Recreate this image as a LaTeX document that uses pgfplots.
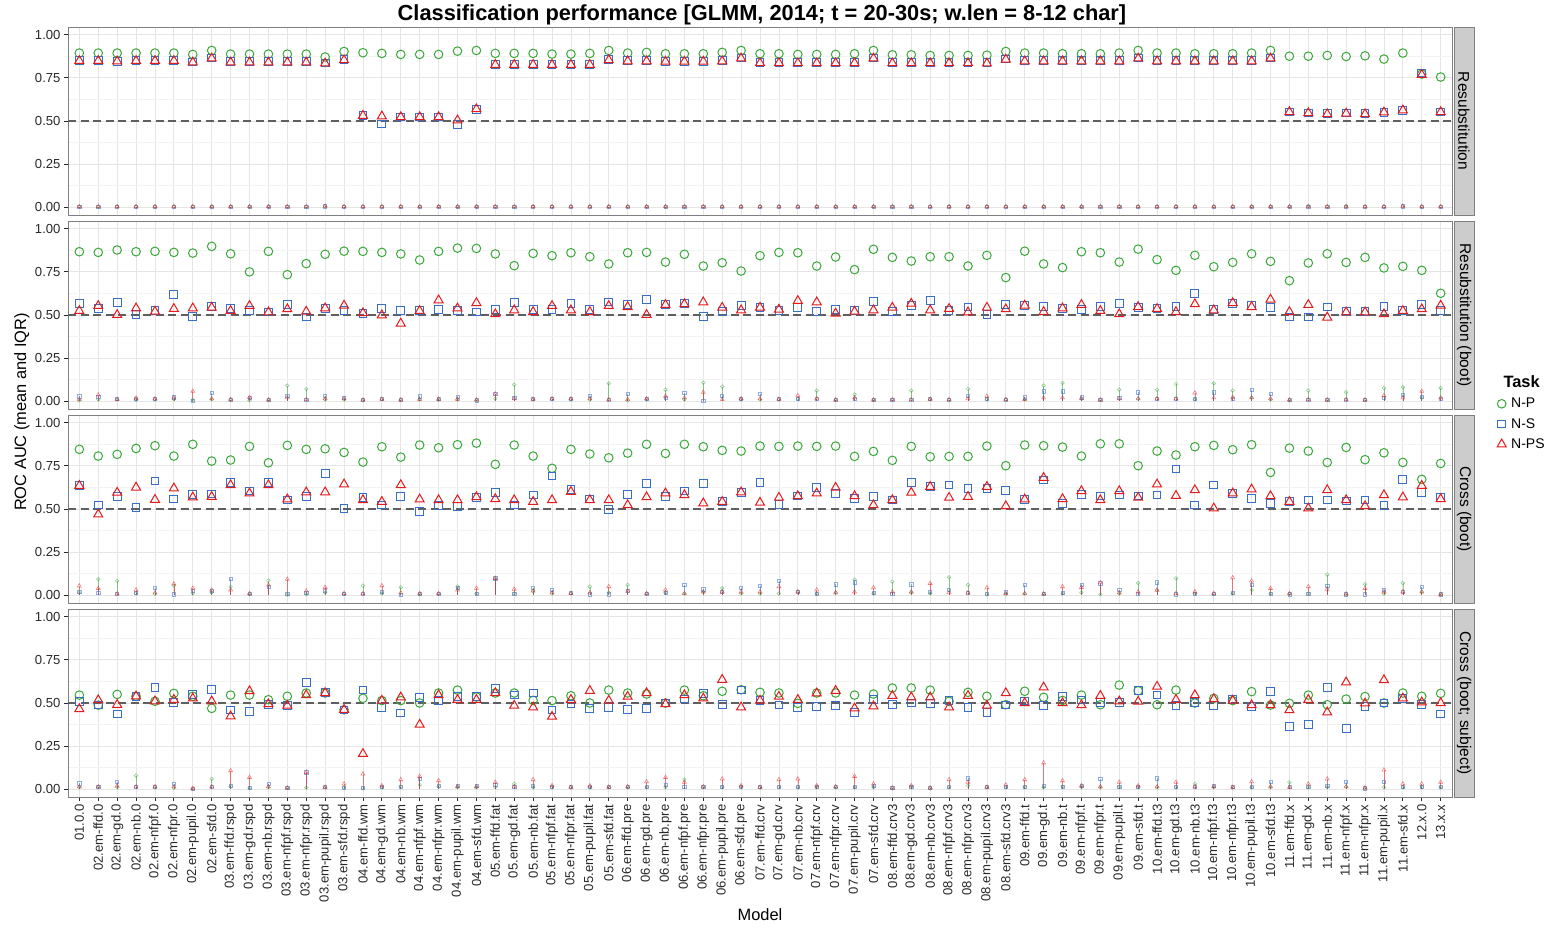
\documentclass[border=0pt]{standalone}
\usepackage{fontspec}
\setmainfont{Liberation Sans}
\usepackage{pgfplots}
\usepackage{pgfplotstable}
\pgfplotsset{compat=1.18}

\definecolor{npg}{RGB}{56,168,56}
\definecolor{nsb}{RGB}{55,110,200}
\definecolor{npsr}{RGB}{228,26,28}
\definecolor{gridmaj}{RGB}{229,229,229}
\definecolor{gridmin}{RGB}{243,243,243}
\definecolor{bordercol}{RGB}{127,127,127}
\definecolor{stripfill}{RGB}{204,204,204}
\definecolor{dashcol}{RGB}{95,95,95}
\definecolor{tickcol}{RGB}{40,40,40}

\newcommand{\ticksize}{\fontsize{13.1}{14}\selectfont}
\newcommand{\stripsize}{\fontsize{15.5}{17}\selectfont}
\newcommand{\legsize}{\fontsize{14}{16}\selectfont}

% x np ns nps snp sns snps
\pgfplotstableread{
x np ns nps snp sns snps
0 0.894 0.849 0.849 0.004 0.004 0.004
1 0.894 0.849 0.849 0.004 0.004 0.004
2 0.894 0.846 0.846 0.004 0.004 0.004
3 0.894 0.849 0.849 0.004 0.004 0.004
4 0.894 0.849 0.849 0.004 0.004 0.004
5 0.894 0.849 0.849 0.004 0.004 0.004
6 0.886 0.842 0.840 0.004 0.004 0.004
7 0.909 0.865 0.863 0.004 0.004 0.004
8 0.888 0.843 0.840 0.004 0.004 0.004
9 0.888 0.843 0.840 0.004 0.004 0.004
10 0.888 0.843 0.840 0.004 0.004 0.004
11 0.888 0.843 0.840 0.004 0.004 0.004
12 0.888 0.843 0.840 0.004 0.004 0.004
13 0.871 0.836 0.834 0.006 0.006 0.006
14 0.903 0.855 0.853 0.004 0.004 0.004
15 0.896 0.531 0.531 0.004 0.004 0.004
16 0.892 0.483 0.527 0.004 0.004 0.004
17 0.886 0.523 0.523 0.004 0.004 0.004
18 0.886 0.523 0.523 0.004 0.004 0.004
19 0.886 0.523 0.523 0.004 0.004 0.004
20 0.905 0.479 0.504 0.004 0.004 0.004
21 0.909 0.569 0.569 0.004 0.004 0.004
22 0.892 0.828 0.826 0.004 0.004 0.004
23 0.892 0.828 0.826 0.004 0.004 0.004
24 0.892 0.828 0.826 0.004 0.004 0.004
25 0.888 0.828 0.826 0.004 0.004 0.004
26 0.888 0.828 0.826 0.004 0.004 0.004
27 0.892 0.828 0.826 0.004 0.004 0.004
28 0.909 0.855 0.853 0.004 0.004 0.004
29 0.894 0.849 0.847 0.004 0.004 0.004
30 0.898 0.849 0.847 0.004 0.004 0.004
31 0.890 0.847 0.845 0.004 0.004 0.004
32 0.890 0.847 0.845 0.004 0.004 0.004
33 0.890 0.847 0.845 0.004 0.004 0.004
34 0.898 0.849 0.847 0.004 0.004 0.004
35 0.909 0.865 0.863 0.004 0.004 0.004
36 0.890 0.838 0.836 0.004 0.004 0.004
37 0.890 0.838 0.836 0.004 0.004 0.004
38 0.886 0.838 0.836 0.004 0.004 0.004
39 0.886 0.838 0.836 0.004 0.004 0.004
40 0.886 0.838 0.836 0.004 0.004 0.004
41 0.890 0.838 0.836 0.004 0.004 0.004
42 0.909 0.865 0.863 0.004 0.004 0.004
43 0.884 0.838 0.836 0.004 0.004 0.004
44 0.884 0.838 0.836 0.004 0.004 0.004
45 0.880 0.838 0.836 0.004 0.004 0.004
46 0.880 0.838 0.836 0.004 0.004 0.004
47 0.880 0.838 0.836 0.004 0.004 0.004
48 0.882 0.840 0.834 0.004 0.004 0.004
49 0.903 0.859 0.857 0.004 0.004 0.004
50 0.894 0.849 0.847 0.004 0.004 0.004
51 0.894 0.849 0.847 0.004 0.004 0.004
52 0.890 0.849 0.847 0.004 0.004 0.004
53 0.890 0.849 0.847 0.004 0.004 0.004
54 0.890 0.849 0.847 0.004 0.004 0.004
55 0.894 0.849 0.847 0.004 0.004 0.004
56 0.909 0.865 0.863 0.004 0.004 0.004
57 0.894 0.849 0.847 0.004 0.004 0.004
58 0.894 0.849 0.847 0.004 0.004 0.004
59 0.890 0.849 0.847 0.004 0.004 0.004
60 0.890 0.849 0.847 0.004 0.004 0.004
61 0.890 0.849 0.847 0.004 0.004 0.004
62 0.894 0.849 0.847 0.004 0.004 0.004
63 0.909 0.865 0.863 0.004 0.004 0.004
64 0.876 0.552 0.552 0.004 0.004 0.004
65 0.876 0.546 0.546 0.007 0.004 0.004
66 0.880 0.542 0.540 0.004 0.004 0.004
67 0.874 0.546 0.544 0.007 0.004 0.004
68 0.878 0.542 0.540 0.004 0.004 0.004
69 0.859 0.550 0.550 0.004 0.004 0.004
70 0.894 0.562 0.562 0.006 0.006 0.006
71 0.772 0.778 0.768 0.004 0.004 0.004
72 0.755 0.552 0.552 0.004 0.004 0.004
}\pone

\pgfplotstableread{
x np ns nps snp sns snps
0 0.867 0.568 0.524 0.005 0.029 0.012
1 0.863 0.539 0.553 0.010 0.025 0.037
2 0.877 0.574 0.501 0.010 0.015 0.010
3 0.867 0.505 0.539 0.008 0.015 0.018
4 0.869 0.524 0.520 0.010 0.015 0.015
5 0.863 0.617 0.536 0.012 0.023 0.020
6 0.859 0.491 0.539 0.008 0.004 0.058
7 0.898 0.549 0.543 0.012 0.048 0.015
8 0.855 0.539 0.524 0.010 0.010 0.010
9 0.750 0.524 0.553 0.005 0.018 0.022
10 0.869 0.518 0.516 0.008 0.008 0.008
11 0.734 0.559 0.534 0.091 0.033 0.020
12 0.798 0.489 0.520 0.071 0.010 0.010
13 0.852 0.539 0.539 0.010 0.033 0.015
14 0.870 0.524 0.555 0.010 0.020 0.015
15 0.869 0.509 0.511 0.005 0.008 0.008
16 0.863 0.539 0.499 0.012 0.015 0.012
17 0.854 0.526 0.451 0.008 0.008 0.008
18 0.819 0.524 0.524 0.010 0.029 0.010
19 0.869 0.534 0.586 0.008 0.012 0.012
20 0.888 0.524 0.539 0.010 0.027 0.012
21 0.886 0.518 0.570 0.005 0.005 0.008
22 0.854 0.534 0.505 0.015 0.042 0.042
23 0.786 0.574 0.528 0.096 0.022 0.015
24 0.857 0.534 0.518 0.010 0.012 0.012
25 0.844 0.534 0.553 0.012 0.015 0.015
26 0.861 0.568 0.528 0.010 0.015 0.015
27 0.838 0.530 0.518 0.010 0.033 0.015
28 0.796 0.576 0.553 0.104 0.010 0.010
29 0.861 0.559 0.547 0.005 0.042 0.012
30 0.863 0.590 0.501 0.010 0.015 0.015
31 0.807 0.563 0.559 0.066 0.020 0.030
32 0.852 0.566 0.563 0.010 0.048 0.020
33 0.784 0.493 0.574 0.108 0.004 0.052
34 0.803 0.520 0.543 0.085 0.033 0.010
35 0.755 0.557 0.528 0.010 0.015 0.015
36 0.844 0.543 0.543 0.010 0.042 0.015
37 0.863 0.526 0.532 0.010 0.012 0.012
38 0.861 0.543 0.582 0.015 0.015 0.033
39 0.784 0.520 0.574 0.062 0.015 0.015
40 0.836 0.530 0.509 0.008 0.008 0.008
41 0.763 0.524 0.520 0.039 0.015 0.020
42 0.881 0.578 0.528 0.008 0.008 0.008
43 0.834 0.522 0.543 0.008 0.010 0.010
44 0.813 0.553 0.566 0.062 0.010 0.010
45 0.838 0.582 0.528 0.010 0.012 0.012
46 0.838 0.528 0.536 0.008 0.010 0.010
47 0.784 0.547 0.516 0.071 0.033 0.015
48 0.846 0.505 0.543 0.010 0.015 0.029
49 0.717 0.559 0.534 0.010 0.010 0.010
50 0.870 0.555 0.555 0.010 0.023 0.010
51 0.796 0.551 0.518 0.091 0.058 0.020
52 0.775 0.539 0.539 0.106 0.058 0.020
53 0.867 0.534 0.559 0.015 0.023 0.015
54 0.861 0.551 0.524 0.008 0.008 0.008
55 0.807 0.566 0.505 0.067 0.019 0.015
56 0.882 0.543 0.547 0.015 0.052 0.015
57 0.821 0.538 0.536 0.067 0.015 0.015
58 0.759 0.551 0.518 0.100 0.013 0.015
59 0.846 0.626 0.563 0.010 0.015 0.048
60 0.780 0.530 0.528 0.104 0.052 0.020
61 0.805 0.568 0.570 0.062 0.015 0.023
62 0.855 0.557 0.547 0.020 0.067 0.020
63 0.811 0.543 0.590 0.010 0.042 0.015
64 0.699 0.489 0.518 0.005 0.008 0.008
65 0.802 0.489 0.559 0.062 0.010 0.010
66 0.855 0.547 0.486 0.008 0.008 0.008
67 0.805 0.520 0.516 0.052 0.010 0.010
68 0.834 0.520 0.516 0.008 0.008 0.008
69 0.773 0.551 0.505 0.077 0.020 0.033
70 0.782 0.528 0.524 0.081 0.036 0.020
71 0.759 0.563 0.534 0.020 0.025 0.058
72 0.626 0.524 0.555 0.077 0.015 0.020
}\ptwo

\pgfplotstableread{
x np ns nps snp sns snps
0 0.846 0.635 0.635 0.015 0.021 0.054
1 0.807 0.523 0.469 0.093 0.015 0.040
2 0.817 0.571 0.595 0.083 0.008 0.008
3 0.851 0.510 0.625 0.010 0.012 0.031
4 0.867 0.662 0.554 0.008 0.041 0.015
5 0.807 0.558 0.620 0.056 0.005 0.066
6 0.875 0.585 0.568 0.010 0.025 0.041
7 0.778 0.587 0.571 0.015 0.025 0.031
8 0.784 0.653 0.639 0.050 0.095 0.031
9 0.863 0.604 0.591 0.008 0.010 0.010
10 0.768 0.653 0.639 0.085 0.050 0.060
11 0.869 0.552 0.556 0.003 0.010 0.093
12 0.846 0.571 0.597 0.005 0.015 0.025
13 0.849 0.707 0.597 0.015 0.025 0.046
14 0.828 0.502 0.643 0.008 0.010 0.010
15 0.772 0.566 0.552 0.056 0.008 0.010
16 0.861 0.523 0.542 0.010 0.020 0.056
17 0.801 0.571 0.639 0.046 0.003 0.015
18 0.871 0.485 0.556 0.005 0.008 0.010
19 0.855 0.519 0.552 0.008 0.008 0.010
20 0.873 0.515 0.552 0.050 0.041 0.031
21 0.882 0.566 0.569 0.010 0.010 0.041
22 0.759 0.597 0.558 0.095 0.098 0.098
23 0.871 0.523 0.552 0.010 0.010 0.035
24 0.807 0.581 0.542 0.025 0.041 0.025
25 0.736 0.691 0.552 0.010 0.031 0.015
26 0.846 0.614 0.600 0.010 0.015 0.010
27 0.819 0.558 0.552 0.050 0.005 0.015
28 0.797 0.498 0.552 0.015 0.005 0.050
29 0.824 0.585 0.523 0.060 0.025 0.025
30 0.875 0.649 0.569 0.010 0.010 0.010
31 0.822 0.571 0.591 0.015 0.015 0.031
32 0.875 0.604 0.581 0.010 0.060 0.010
33 0.861 0.649 0.533 0.020 0.035 0.020
34 0.840 0.542 0.542 0.041 0.020 0.020
35 0.836 0.597 0.597 0.010 0.041 0.020
36 0.865 0.654 0.537 0.010 0.054 0.020
37 0.863 0.527 0.566 0.010 0.085 0.050
38 0.865 0.575 0.575 0.020 0.020 0.020
39 0.863 0.625 0.591 0.010 0.010 0.031
40 0.865 0.589 0.624 0.015 0.064 0.015
41 0.805 0.562 0.575 0.091 0.075 0.020
42 0.834 0.573 0.523 0.010 0.015 0.044
43 0.782 0.552 0.552 0.079 0.010 0.020
44 0.863 0.656 0.595 0.015 0.064 0.020
45 0.803 0.631 0.629 0.010 0.020 0.069
46 0.805 0.639 0.566 0.104 0.031 0.015
47 0.805 0.620 0.571 0.060 0.015 0.015
48 0.865 0.617 0.629 0.005 0.010 0.044
49 0.751 0.608 0.517 0.005 0.020 0.010
50 0.871 0.556 0.556 0.010 0.060 0.010
51 0.867 0.668 0.681 0.008 0.008 0.008
52 0.859 0.533 0.558 0.010 0.015 0.050
53 0.807 0.585 0.604 0.015 0.060 0.046
54 0.878 0.575 0.552 0.005 0.069 0.073
55 0.878 0.581 0.604 0.010 0.033 0.015
56 0.751 0.575 0.566 0.071 0.010 0.020
57 0.836 0.581 0.643 0.030 0.075 0.030
58 0.813 0.732 0.577 0.098 0.005 0.010
59 0.861 0.523 0.610 0.010 0.010 0.020
60 0.869 0.639 0.504 0.008 0.010 0.010
61 0.844 0.591 0.591 0.010 0.015 0.102
62 0.873 0.562 0.614 0.030 0.060 0.083
63 0.712 0.531 0.575 0.010 0.010 0.040
64 0.853 0.542 0.542 0.008 0.005 0.010
65 0.836 0.552 0.504 0.010 0.010 0.050
66 0.770 0.552 0.610 0.120 0.056 0.035
67 0.857 0.546 0.552 0.005 0.005 0.008
68 0.786 0.552 0.517 0.064 0.005 0.040
69 0.826 0.519 0.581 0.010 0.030 0.020
70 0.770 0.672 0.568 0.071 0.020 0.020
71 0.672 0.595 0.635 0.020 0.050 0.020
72 0.764 0.566 0.558 0.005 0.005 0.005
}\pthree

\pgfplotstableread{
x np ns nps snp sns snps
0 0.546 0.510 0.465 0.012 0.035 0.015
1 0.488 0.488 0.517 0.012 0.012 0.015
2 0.550 0.436 0.490 0.012 0.041 0.020
3 0.539 0.537 0.539 0.079 0.015 0.015
4 0.510 0.591 0.510 0.012 0.012 0.015
5 0.556 0.504 0.519 0.008 0.031 0.015
6 0.539 0.548 0.527 0.003 0.003 0.005
7 0.469 0.577 0.510 0.060 0.012 0.015
8 0.546 0.459 0.423 0.015 0.020 0.108
9 0.546 0.450 0.569 0.008 0.010 0.069
10 0.519 0.490 0.494 0.012 0.031 0.015
11 0.539 0.485 0.485 0.008 0.008 0.008
12 0.558 0.620 0.546 0.010 0.098 0.098
13 0.558 0.562 0.558 0.010 0.012 0.012
14 0.461 0.459 0.461 0.012 0.008 0.031
15 0.527 0.575 0.205 0.005 0.010 0.089
16 0.514 0.475 0.514 0.010 0.015 0.021
17 0.514 0.442 0.533 0.015 0.012 0.056
18 0.500 0.533 0.375 0.025 0.060 0.075
19 0.558 0.514 0.546 0.015 0.020 0.050
20 0.575 0.537 0.519 0.012 0.021 0.015
21 0.535 0.537 0.519 0.012 0.021 0.015
22 0.558 0.585 0.558 0.012 0.025 0.041
23 0.558 0.546 0.485 0.031 0.012 0.015
24 0.515 0.558 0.475 0.012 0.020 0.056
25 0.514 0.459 0.421 0.012 0.015 0.021
26 0.542 0.494 0.519 0.010 0.012 0.012
27 0.500 0.469 0.571 0.012 0.015 0.020
28 0.575 0.475 0.514 0.012 0.012 0.012
29 0.558 0.461 0.537 0.012 0.012 0.015
30 0.552 0.469 0.558 0.012 0.015 0.044
31 0.500 0.500 0.494 0.012 0.025 0.069
32 0.575 0.523 0.546 0.056 0.015 0.041
33 0.542 0.556 0.527 0.012 0.012 0.015
34 0.568 0.490 0.635 0.012 0.015 0.060
35 0.577 0.575 0.475 0.015 0.015 0.021
36 0.562 0.514 0.514 0.010 0.012 0.012
37 0.558 0.488 0.537 0.012 0.015 0.056
38 0.498 0.475 0.519 0.012 0.015 0.060
39 0.558 0.479 0.556 0.012 0.015 0.021
40 0.558 0.485 0.571 0.012 0.012 0.015
41 0.546 0.446 0.469 0.012 0.015 0.075
42 0.552 0.519 0.481 0.012 0.020 0.031
43 0.587 0.490 0.542 0.005 0.008 0.008
44 0.587 0.500 0.533 0.012 0.015 0.021
45 0.575 0.498 0.533 0.005 0.008 0.008
46 0.510 0.514 0.475 0.012 0.015 0.056
47 0.562 0.475 0.542 0.021 0.064 0.041
48 0.539 0.446 0.485 0.012 0.015 0.012
49 0.490 0.488 0.558 0.012 0.015 0.025
50 0.568 0.512 0.500 0.012 0.015 0.056
51 0.533 0.485 0.591 0.012 0.020 0.153
52 0.515 0.537 0.500 0.015 0.012 0.050
53 0.546 0.517 0.488 0.012 0.021 0.021
54 0.490 0.504 0.542 0.012 0.060 0.015
55 0.604 0.504 0.510 0.012 0.015 0.041
56 0.571 0.571 0.508 0.012 0.015 0.020
57 0.490 0.546 0.595 0.012 0.064 0.015
58 0.575 0.485 0.519 0.012 0.015 0.041
59 0.500 0.504 0.546 0.031 0.015 0.015
60 0.527 0.485 0.523 0.012 0.021 0.015
61 0.514 0.519 0.514 0.010 0.012 0.012
62 0.566 0.479 0.488 0.012 0.015 0.044
63 0.488 0.568 0.488 0.012 0.041 0.015
64 0.498 0.363 0.459 0.041 0.015 0.012
65 0.546 0.375 0.519 0.012 0.015 0.031
66 0.490 0.591 0.446 0.012 0.020 0.060
67 0.523 0.353 0.620 0.015 0.041 0.015
68 0.537 0.481 0.498 0.005 0.005 0.008
69 0.500 0.500 0.633 0.012 0.041 0.112
70 0.558 0.527 0.527 0.012 0.015 0.031
71 0.539 0.492 0.504 0.012 0.015 0.031
72 0.556 0.436 0.500 0.012 0.015 0.041
}\pfour

\pgfplotsset{
  panel/.style={
    scale only axis, width=1384pt, height=188pt,
    xmin=-0.6, xmax=72.6, ymin=-0.045, ymax=1.045,
    xtick={0,...,72},
    ytick={0,0.25,0.5,0.75,1},
    yticklabels={0.00,0.25,0.50,0.75,1.00},
    minor ytick={0.125,0.375,0.625,0.875},
    grid=both,
    major grid style={draw=gridmaj, line width=0.8pt},
    minor grid style={draw=gridmin, line width=0.6pt},
    axis line style={draw=bordercol, line width=0.8pt},
    tick align=outside, tick pos=left,
    major tick length=4pt, minor tick length=0pt,
    tick style={draw=tickcol, line width=0.8pt},
    yticklabel style={font=\ticksize, text=tickcol},
    xticklabel style={font=\ticksize, text=tickcol, rotate=90, anchor=east},
  },
  noxlab/.style={xticklabels={}, x tick style={draw=none}},
}

\newcommand{\panelplots}[1]{%
  \addplot[forget plot, npg, ycomb, mark=o, mark size=1.8pt, line width=0.6pt, opacity=0.55] table[x=x,y=snp]{#1};
  \addplot[forget plot, nsb, ycomb, mark=square, mark size=1.6pt, line width=0.6pt, opacity=0.55] table[x=x,y=sns]{#1};
  \addplot[forget plot, npsr, ycomb, mark=triangle, mark size=2.3pt, line width=0.6pt, opacity=0.55] table[x=x,y=snps]{#1};
  \addplot[forget plot, dashcol, dash pattern=on 8pt off 4.5pt, line width=1.2pt] coordinates {(-0.6,0.5) (72.6,0.5)};
  \addplot[forget plot, npg, only marks, mark=o, mark size=4.3pt, line width=1pt] table[x=x,y=np]{#1};
  \addplot[forget plot, nsb, only marks, mark=square, mark size=3.9pt, line width=1pt] table[x=x,y=ns]{#1};
  \addplot[forget plot, npsr, only marks, mark=triangle, mark size=5.2pt, line width=1pt] table[x=x,y=nps]{#1};
}

\begin{document}
\begin{tikzpicture}
\useasboundingbox (0,0) rectangle (1552pt,-927pt);

\begin{axis}[panel, noxlab, at={(68pt,-27pt)}, anchor=north west]
\panelplots{\pone}
\end{axis}

\begin{axis}[panel, noxlab, at={(68pt,-221pt)}, anchor=north west,
  legend style={at={(1.0325,0.069)}, anchor=north west, draw=none, fill=none,
    font=\legsize, row sep=5pt, inner sep=0pt, column sep=3pt},
  legend cell align=left,
  legend image code/.code={\draw[mark repeat=2,mark phase=2,#1] plot coordinates {(0pt,0pt) (7pt,0pt) (14pt,0pt)};}]
\panelplots{\ptwo}
\addlegendimage{only marks, npg, mark=o, mark size=4.3pt, line width=1pt}
\addlegendentry{N-P}
\addlegendimage{only marks, nsb, mark=square, mark size=3.9pt, line width=1pt}
\addlegendentry{N-S}
\addlegendimage{only marks, npsr, mark=triangle, mark size=5.2pt, line width=1pt}
\addlegendentry{N-PS}
\end{axis}

\begin{axis}[panel, noxlab, at={(68pt,-415pt)}, anchor=north west]
\panelplots{\pthree}
\end{axis}

\begin{axis}[panel, at={(68pt,-609pt)}, anchor=north west,
  xticklabels={01.0.0,02.em-ffd.0,02.em-gd.0,02.em-nb.0,02.em-nfpf.0,02.em-nfpr.0,02.em-pupil.0,02.em-sfd.0,03.em-ffd.rspd,03.em-gd.rspd,03.em-nb.rspd,03.em-nfpf.rspd,03.em-nfpr.rspd,03.em-pupil.rspd,03.em-sfd.rspd,04.em-ffd.wm,04.em-gd.wm,04.em-nb.wm,04.em-nfpf.wm,04.em-nfpr.wm,04.em-pupil.wm,04.em-sfd.wm,05.em-ffd.fat,05.em-gd.fat,05.em-nb.fat,05.em-nfpf.fat,05.em-nfpr.fat,05.em-pupil.fat,05.em-sfd.fat,06.em-ffd.pre,06.em-gd.pre,06.em-nb.pre,06.em-nfpf.pre,06.em-nfpr.pre,06.em-pupil.pre,06.em-sfd.pre,07.em-ffd.crv,07.em-gd.crv,07.em-nb.crv,07.em-nfpf.crv,07.em-nfpr.crv,07.em-pupil.crv,07.em-sfd.crv,08.em-ffd.crv3,08.em-gd.crv3,08.em-nb.crv3,08.em-nfpf.crv3,08.em-nfpr.crv3,08.em-pupil.crv3,08.em-sfd.crv3,09.em-ffd.t,09.em-gd.t,09.em-nb.t,09.em-nfpf.t,09.em-nfpr.t,09.em-pupil.t,09.em-sfd.t,10.em-ffd.t3,10.em-gd.t3,10.em-nb.t3,10.em-nfpf.t3,10.em-nfpr.t3,10.em-pupil.t3,10.em-sfd.t3,11.em-ffd.x,11.em-gd.x,11.em-nb.x,11.em-nfpf.x,11.em-nfpr.x,11.em-pupil.x,11.em-sfd.x,12.x.0,13.x.x}]
\panelplots{\pfour}
\end{axis}

% facet strips
\foreach \top/\lab in {27/Resubstitution, 221/Resubstitution (boot), 415/Cross (boot), 609/{Cross (boot; subject)}}{
  \draw[fill=stripfill, draw=bordercol, line width=0.8pt] (1454pt,-\top pt) rectangle (1474pt,{-(\top+188)*1pt});
  \node[rotate=-90, font=\stripsize, text=black] at (1464pt,{-(\top+94)*1pt}) {\lab};
}

\node[font=\bfseries\fontsize{21.8}{24}\selectfont] at (762pt,-15pt) {Classification performance [GLMM, 2014; t = 20-30s; w.len = 8-12 char]};
\node[rotate=90, font=\fontsize{16.4}{18}\selectfont] at (22pt,-412pt) {ROC AUC (mean and IQR)};
\node[font=\fontsize{16.4}{18}\selectfont] at (760pt,-915pt) {Model};
\node[anchor=west, font=\bfseries\fontsize{16.4}{18}\selectfont] at (1500pt,-382pt) {Task};
\end{tikzpicture}
\end{document}
